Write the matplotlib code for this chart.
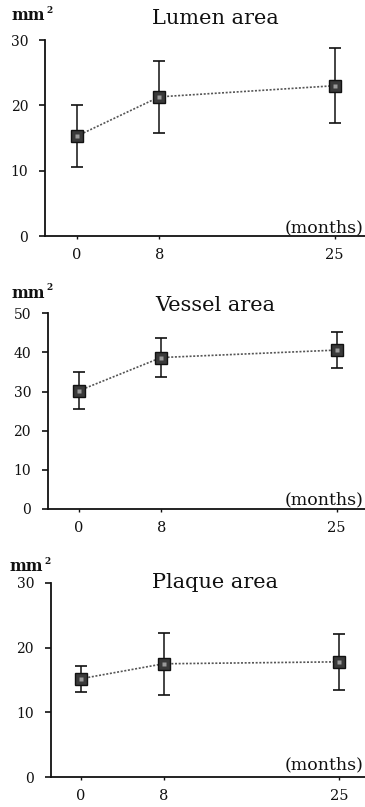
import matplotlib
matplotlib.use("Agg")
import matplotlib.pyplot as plt

months = [0, 8, 25]
month_labels = ["0", "8", "25"]

lumen_mean = [15.3, 21.3, 23.0]
lumen_sd = [4.8, 5.5, 5.7]
vessel_mean = [30.2, 38.7, 40.6]
vessel_sd = [4.7, 5.0, 4.5]
plaque_mean = [15.2, 17.5, 17.8]
plaque_sd = [2.0, 4.8, 4.3]

titles = ["Lumen area", "Vessel area", "Plaque area"]
yticks_list = [[0, 10, 20, 30], [0, 10, 20, 30, 40, 50], [0, 10, 20, 30]]
ylims = [30, 50, 30]

plt.rcParams['font.family'] = ['DejaVu Serif']

W, H = 365, 807
fig = plt.figure(figsize=(W / 100, H / 100), dpi=100)

# pixel layout: (axis_left_x, top_y, bottom_y, x_of_month0, px_per_month)
layout = [
    (45, 40, 236, 77, 10.3),
    (47.7, 313.3, 509, 78.7, 10.32),
    (50.7, 582.7, 777.3, 81, 10.32),
]
title_y = [19, 305, 582]
mm_y = [16.5, 294, 567]
mm_x = [45, 45, 43]
months_y = [228, 500, 765]

series = [(lumen_mean, lumen_sd), (vessel_mean, vessel_sd), (plaque_mean, plaque_sd)]

for i, ((xl, yt, yb, x0, ppm), (m, sd)) in enumerate(zip(layout, series)):
    ax = fig.add_axes([xl / W, (H - yb) / H, (W - xl) / W, (yb - yt) / H])
    ax.set_xlim((xl - x0) / ppm, (W - x0) / ppm)
    ax.set_ylim(0, ylims[i])
    ax.patch.set_alpha(0)
    for s in ["top", "right"]:
        ax.spines[s].set_visible(False)
    for s in ["left", "bottom"]:
        ax.spines[s].set_linewidth(1.3)
        ax.spines[s].set_color("#111111")
    ax.set_yticks(yticks_list[i])
    ax.set_yticklabels([str(t) for t in yticks_list[i]])
    ax.set_xticks(months)
    ax.set_xticklabels(month_labels)
    ax.tick_params(axis="y", length=4, width=1.2, pad=8, labelsize=10, colors="#111111")
    ax.tick_params(axis="x", length=2.5, width=1.0, pad=6, labelsize=10.5, colors="#111111")
    ax.plot(months, m, linestyle=(0, (1.2, 1.0)), color="#555555", linewidth=1.2, zorder=2)
    ax.errorbar(months, m, yerr=sd, fmt="none", ecolor="#111111", elinewidth=1.1,
                capsize=4.3, capthick=1.2, zorder=3)
    ax.plot(months, m, linestyle="none", marker="s", markersize=8,
            markerfacecolor="#3a3a3a", markeredgecolor="#111111", markeredgewidth=1.0, zorder=4)
    ax.plot(months, m, linestyle="none", marker="s", markersize=3,
            markerfacecolor="#9a9a9a", markeredgecolor="none", zorder=5)
    fig.text(215 / W, 1 - title_y[i] / H, titles[i], ha="center", va="center",
             fontsize=15, color="#111111")
    fig.text(mm_x[i] / W, 1 - (mm_y[i] + 4) / H, "mm", ha="right", va="baseline",
             fontsize=11.5, color="#111111", fontweight="bold")
    fig.text((mm_x[i] + 1) / W, 1 - (mm_y[i] - 6) / H, "2", ha="left", va="center",
             fontsize=6.5, color="#111111", fontweight="bold")
    fig.text(363 / W, 1 - months_y[i] / H, "(months)", ha="right", va="center",
             fontsize=12.5, color="#111111")

fig.savefig("out.png", dpi=100)
